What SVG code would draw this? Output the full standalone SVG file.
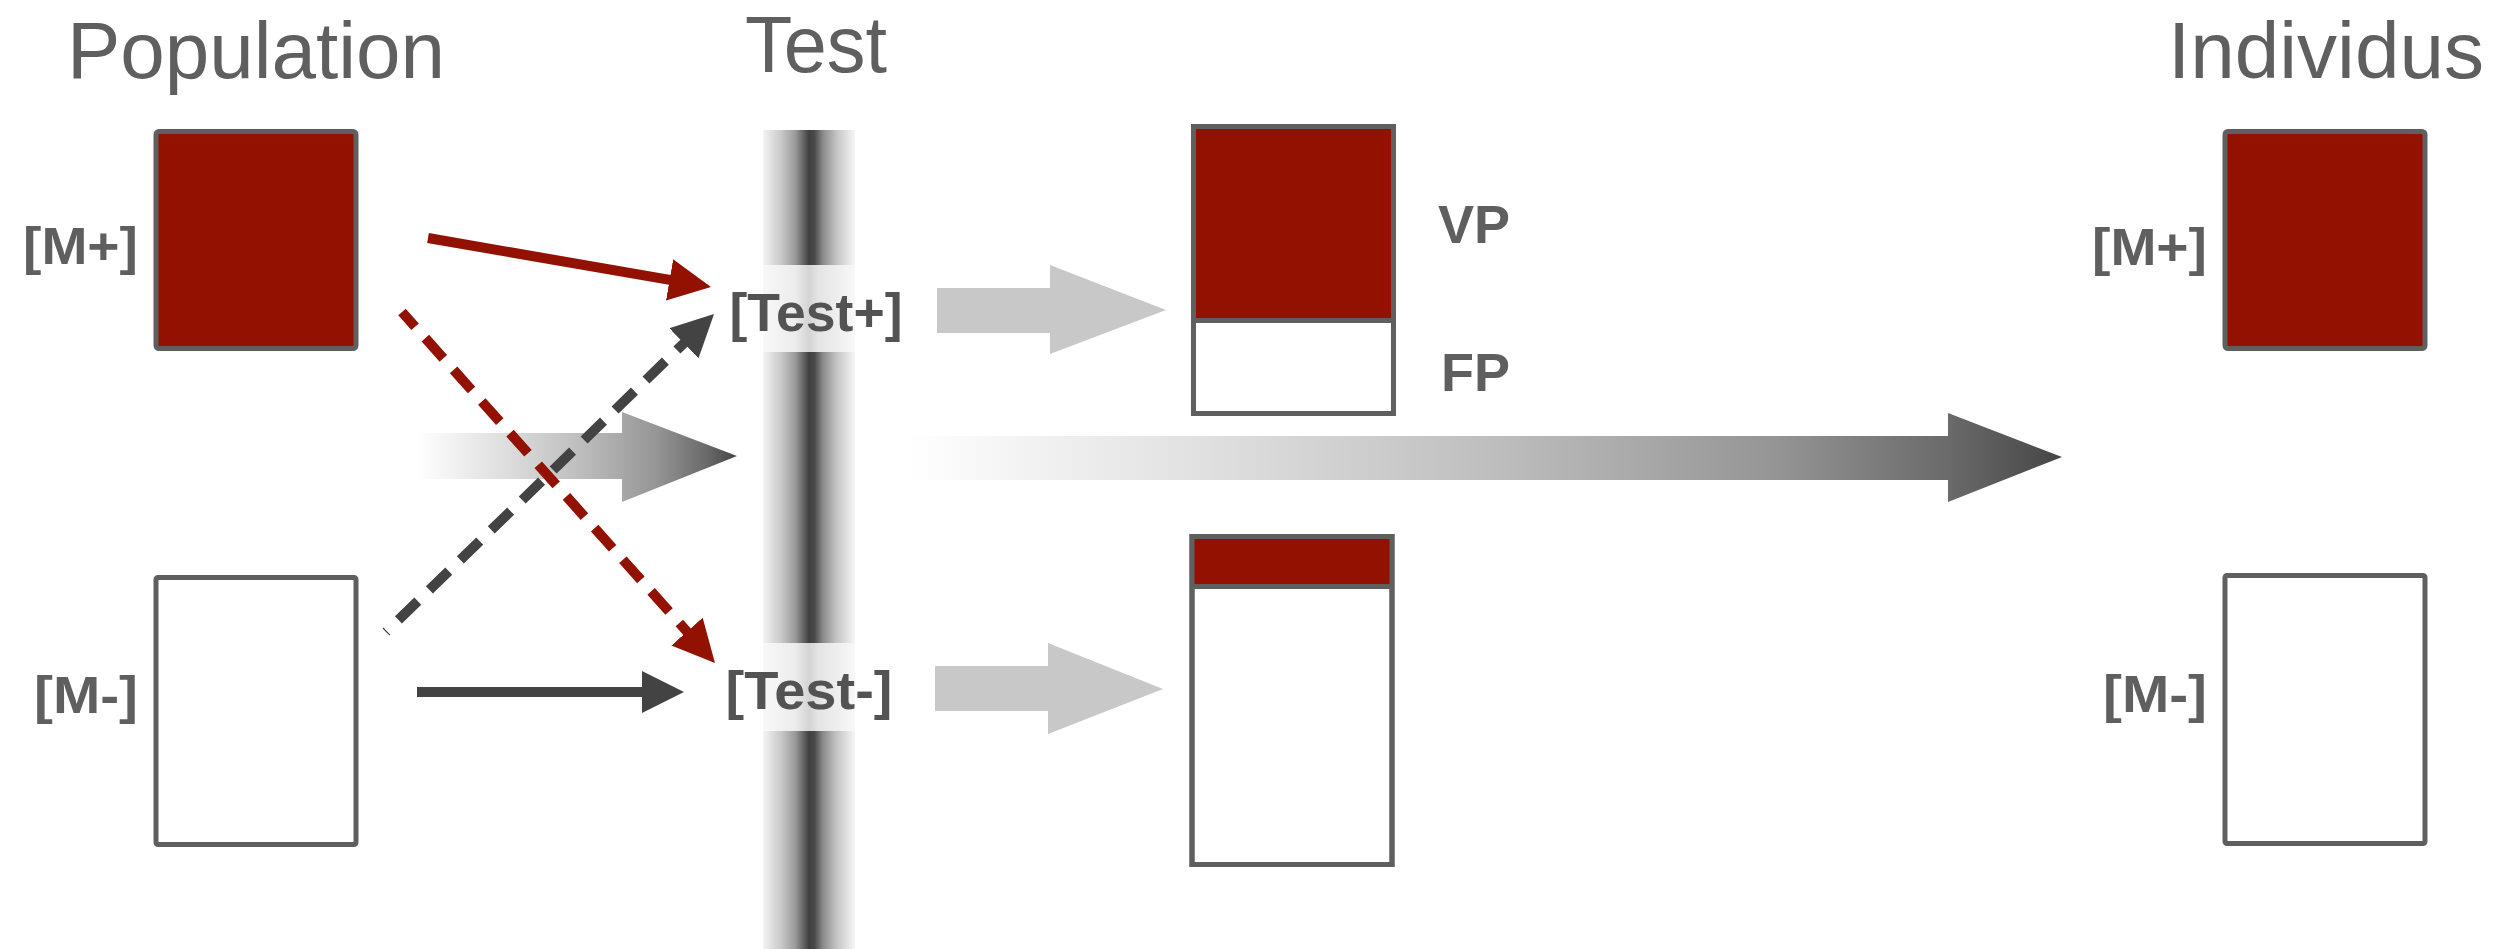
<svg xmlns="http://www.w3.org/2000/svg" width="2520" height="949" viewBox="0 0 2520 949">
<style>
.title{font-family:"Liberation Sans",Arial,sans-serif;font-size:80px;fill:#5f5f5f}
.lbl{font-family:"Liberation Sans",Arial,sans-serif;font-size:52px;font-weight:bold;fill:#5f5f5f}
.res{font-family:"Liberation Sans",Arial,sans-serif;font-size:54px;font-weight:bold;fill:#5f5f5f}
.tst{font-family:"Liberation Sans",Arial,sans-serif;font-size:53px;font-weight:bold;fill:#535353}
.box{stroke:#5f5f5f;stroke-width:5}
.pos{fill:#931100}
.neg{fill:#ffffff}
.red{stroke:#931100;fill:none}
.dark{stroke:#434343;fill:none}
.light{fill:#c8c8c8}
</style>
<defs>
<linearGradient id="barGrad" x1="0" y1="0" x2="1" y2="0">
<stop offset="0" stop-color="#f4f4f4"/>
<stop offset="0.2" stop-color="#c8c8c8"/>
<stop offset="0.35" stop-color="#9a9a9a"/>
<stop offset="0.45" stop-color="#5e5e5e"/>
<stop offset="0.5" stop-color="#404040"/>
<stop offset="0.56" stop-color="#4a4a4a"/>
<stop offset="0.65" stop-color="#8a8a8a"/>
<stop offset="0.8" stop-color="#c4c4c4"/>
<stop offset="1" stop-color="#f6f6f6"/>
</linearGradient>
<linearGradient id="bandGrad" x1="0" y1="0" x2="1" y2="0">
<stop offset="0" stop-color="#f8f8f8"/>
<stop offset="0.35" stop-color="#ececec"/>
<stop offset="0.5" stop-color="#d4d4d4"/>
<stop offset="0.6" stop-color="#e4e4e4"/>
<stop offset="1" stop-color="#f8f8f8"/>
</linearGradient>
<linearGradient id="fatGrad" x1="0" y1="0" x2="1" y2="0">
<stop offset="0" stop-color="#ffffff"/>
<stop offset="0.25" stop-color="#e1e1e1"/>
<stop offset="0.5" stop-color="#bfbfbf"/>
<stop offset="0.75" stop-color="#959595"/>
<stop offset="0.9" stop-color="#6b6b6b"/>
<stop offset="1" stop-color="#454545"/>
</linearGradient>
<marker id="redHead" markerUnits="userSpaceOnUse" markerWidth="42" markerHeight="42" viewBox="0 0 42 42" refX="12" refY="21" orient="auto">
<path d="M0,0 L42,21 L0,42 Z" fill="#931100"/>
</marker>
<marker id="darkHead" markerUnits="userSpaceOnUse" markerWidth="42" markerHeight="42" viewBox="0 0 42 42" refX="12" refY="21" orient="auto">
<path d="M0,0 L42,21 L0,42 Z" fill="#434343"/>
</marker>
</defs>
<rect width="2520" height="949" fill="#ffffff"/>

<g id="titles">
<text class="title" x="67" y="78" textLength="378" lengthAdjust="spacingAndGlyphs">Population</text>
<text class="title" x="745" y="72" textLength="142" lengthAdjust="spacingAndGlyphs">Test</text>
<text class="title" x="2484" y="78" text-anchor="end" textLength="316" lengthAdjust="spacingAndGlyphs">Individus</text>
</g>

<g id="test-barrier">
<rect x="763" y="130" width="92" height="819" fill="url(#barGrad)"/>
<rect x="763" y="265" width="92" height="87" fill="url(#bandGrad)"/>
<rect x="763" y="643" width="92" height="88" fill="url(#bandGrad)"/>
</g>

<g id="connectors">
<path d="M417,433 L622,433 L622,412 L737,456 L622,502 L622,479 L417,479 Z" fill="url(#fatGrad)"/>
<path d="M908,436 L1948,436 L1948,413 L2062,457 L1948,502 L1948,480 L908,480 Z" fill="url(#fatGrad)"/>
<path class="light" d="M937,288 L1050,288 L1050,265 L1166,310 L1050,354 L1050,333 L937,333 Z"/>
<path class="light" d="M935,666 L1048,666 L1048,643 L1163,689 L1048,734 L1048,711 L935,711 Z"/>
<line class="red" x1="428" y1="238" x2="681.4" y2="281.9" stroke-width="10" marker-end="url(#redHead)"/>
<line class="red" x1="402" y1="312" x2="695" y2="640.6" stroke-width="10" stroke-dasharray="27 15.4" stroke-dashoffset="7.3" marker-end="url(#redHead)"/>
<line class="dark" x1="386" y1="632" x2="692.5" y2="334.9" stroke-width="10" stroke-dasharray="27 16.1" stroke-dashoffset="25.8" marker-end="url(#darkHead)"/>
<line class="dark" x1="417" y1="692" x2="654" y2="692" stroke-width="10" marker-end="url(#darkHead)"/>
</g>

<g id="pop-mplus">
<rect class="box pos" x="156" y="131.5" width="200" height="217" rx="3"/>
<text class="lbl" x="138" y="264" text-anchor="end" textLength="115" lengthAdjust="spacingAndGlyphs">[M+]</text>
</g>
<g id="pop-mminus">
<rect class="box neg" x="156" y="577.5" width="200" height="267" rx="2"/>
<text class="lbl" x="138" y="713" text-anchor="end" textLength="104" lengthAdjust="spacingAndGlyphs">[M-]</text>
</g>

<g id="test-plus">
<text class="tst" x="816" y="331" text-anchor="middle" textLength="173" lengthAdjust="spacingAndGlyphs">[Test+]</text>
</g>
<g id="test-minus">
<text class="tst" x="809" y="709" text-anchor="middle" textLength="167" lengthAdjust="spacingAndGlyphs">[Test-]</text>
</g>

<g id="result-plus">
<rect class="box neg" x="1193.5" y="126.5" width="200" height="287"/>
<rect class="pos" x="1193.5" y="126.5" width="200" height="194"/>
<rect class="box" x="1193.5" y="126.5" width="200" height="287" fill="none"/>
<line x1="1193.5" y1="320.5" x2="1393.5" y2="320.5" stroke="#5f5f5f" stroke-width="5"/>
<text class="res" x="1438" y="243">VP</text>
<text class="res" x="1441" y="391">FP</text>
</g>

<g id="result-minus">
<rect class="box neg" x="1192" y="536.5" width="200" height="328"/>
<rect class="pos" x="1192" y="536.5" width="200" height="50"/>
<rect class="box" x="1192" y="536.5" width="200" height="328" fill="none"/>
<line x1="1192" y1="586.5" x2="1392" y2="586.5" stroke="#5f5f5f" stroke-width="5"/>
</g>

<g id="ind-mplus">
<rect class="box pos" x="2225" y="131.5" width="200" height="217" rx="3"/>
<text class="lbl" x="2207" y="265" text-anchor="end" textLength="115" lengthAdjust="spacingAndGlyphs">[M+]</text>
</g>
<g id="ind-mminus">
<rect class="box neg" x="2225" y="575.5" width="200" height="268" rx="2"/>
<text class="lbl" x="2207" y="712" text-anchor="end" textLength="104" lengthAdjust="spacingAndGlyphs">[M-]</text>
</g>
</svg>
